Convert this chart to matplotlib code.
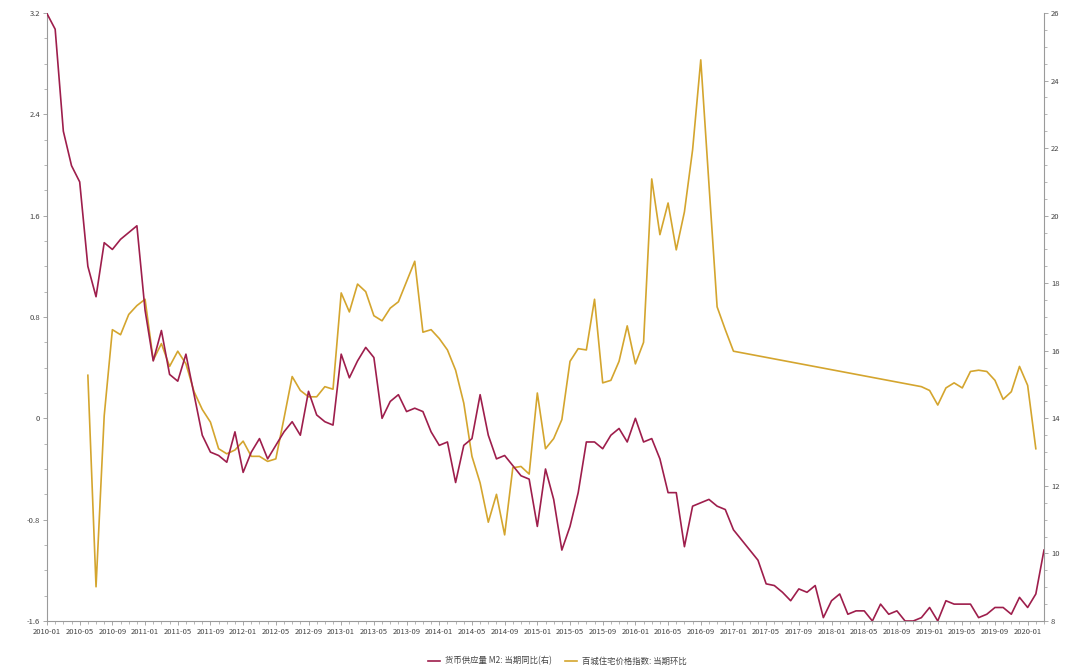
import numpy as np
import pandas as pd
import matplotlib
matplotlib.use("Agg")
import matplotlib.pyplot as plt
from matplotlib.ticker import MultipleLocator, FixedLocator

plt.rcParams['font.family'] = ['Noto Sans CJK SC', 'DejaVu Sans']

# ---- data ----
months = pd.period_range("2010-01", "2020-03", freq="M").strftime("%Y-%m").tolist()

m2_yoy = [  # 货币供应量 M2: 当期同比 (%), right axis
    25.98, 25.52, 22.5, 21.48, 21.0, 18.5, 17.6, 19.2, 19.0, 19.3, 19.5, 19.7,
    17.2, 15.7, 16.6, 15.3, 15.1, 15.9, 14.7, 13.5, 13.0, 12.9, 12.7, 13.6,
    12.4, 13.0, 13.4, 12.8, 13.2, 13.6, 13.9, 13.5, 14.8, 14.1, 13.9, 13.8,
    15.9, 15.2, 15.7, 16.1, 15.8, 14.0, 14.5, 14.7, 14.2, 14.3, 14.2, 13.6,
    13.2, 13.3, 12.1, 13.2, 13.4, 14.7, 13.5, 12.8, 12.9, 12.6, 12.3, 12.2,
    10.8, 12.5, 11.6, 10.1, 10.8, 11.8, 13.3, 13.3, 13.1, 13.5, 13.7, 13.3,
    14.0, 13.3, 13.4, 12.8, 11.8, 11.8, 10.2, 11.4, 11.5, 11.6, 11.4, 11.3,
    10.7, 10.4, 10.1, 9.8, 9.1, 9.05, 8.85, 8.6, 8.95, 8.85, 9.05, 8.1,
    8.6, 8.8, 8.2, 8.3, 8.3, 8.0, 8.5, 8.2, 8.3, 8.0, 8.0, 8.1,
    8.4, 8.0, 8.6, 8.5, 8.5, 8.5, 8.1, 8.2, 8.4, 8.4, 8.2, 8.7,
    8.4, 8.8, 10.1,
]

N = None
house_mom = [  # 百城住宅价格指数: 当期环比 (%), left axis
    N, N, N, N, N, 0.34, -1.33, 0.02, 0.70, 0.66, 0.82, 0.89,
    0.94, 0.46, 0.59, 0.41, 0.53, 0.43, 0.21, 0.07, -0.03, -0.24, -0.28, -0.25,
    -0.18, -0.30, -0.30, -0.34, -0.32, 0.00, 0.33, 0.22, 0.17, 0.17, 0.25, 0.23,
    0.99, 0.84, 1.06, 1.00, 0.81, 0.77, 0.87, 0.92, 1.08, 1.24, 0.68, 0.70,
    0.63, 0.54, 0.38, 0.12, -0.30, -0.51, -0.82, -0.60, -0.92, -0.39, -0.38, -0.44,
    0.20, -0.24, -0.16, -0.01, 0.45, 0.55, 0.54, 0.94, 0.28, 0.30, 0.45, 0.73,
    0.43, 0.60, 1.89, 1.45, 1.70, 1.33, 1.63, 2.12, 2.83, 1.85, 0.88, 0.70,
    0.53, N, N, N, N, N, N, N, N, N, N, N,
    N, N, N, N, N, N, N, N, N, N, N, 0.25,
    0.22, 0.105, 0.24, 0.28, 0.24, 0.37, 0.38, 0.37, 0.30, 0.15, 0.21, 0.41,
    0.26, -0.24, N,
]

label_m2 = "货币供应量 M2: 当期同比(右)"
label_house = "百城住宅价格指数: 当期环比"
left_ticks = [-1.6, -0.8, 0, 0.8, 1.6, 2.4, 3.2]
left_ticklabels = ["-1.6", "-0.8", "0", "0.8", "1.6", "2.4", "3.2"]
right_ticks = [8, 10, 12, 14, 16, 18, 20, 22, 24, 26]

# ---- styling ----
red = "#9E1E4C"
gold = "#D4A52E"
axis_col = "#9a9a9a"
text_col = "#444444"

fig = plt.figure(figsize=(10.8, 6.71), dpi=100)
ax = fig.add_axes([47/1080, 50/671, (1044-47)/1080, (621-13)/671])
ax2 = ax.twinx()

x = np.arange(len(months))
hs = pd.Series(house_mom, dtype=float)
mask = hs.notna().values

l2, = ax2.plot(x, m2_yoy, color=red, lw=1.2, label=label_m2, zorder=3)
l1, = ax.plot(x[mask], hs.values[mask], color=gold, lw=1.2, label=label_house, zorder=2)

ax.set_xlim(0, len(months) - 1)
ax.set_ylim(-1.6, 3.2)
ax2.set_ylim(8, 26)

ax.set_yticks(left_ticks)
ax.set_yticklabels(left_ticklabels)
ax.yaxis.set_minor_locator(MultipleLocator(0.2))
ax2.set_yticks(right_ticks)
ax2.yaxis.set_minor_locator(MultipleLocator(0.5))

major_x = list(range(0, len(months), 4))
ax.xaxis.set_major_locator(FixedLocator(major_x))
ax.set_xticklabels([months[i] for i in major_x])
ax.xaxis.set_minor_locator(MultipleLocator(1))

for a in (ax, ax2):
    for s in a.spines.values():
        s.set_color(axis_col)
        s.set_linewidth(0.8)
    a.spines['top'].set_visible(False)
    a.tick_params(which='major', length=3, width=0.6, color=axis_col,
                  labelsize=5.5, labelcolor=text_col, pad=2)
    a.tick_params(which='minor', length=2, width=0.5, color=axis_col)
ax.spines['right'].set_visible(False)
ax2.spines['left'].set_visible(False)
ax2.spines['bottom'].set_visible(False)

fig.legend(handles=[l2, l1], loc='center', bbox_to_anchor=(0.516, 0.015),
           ncol=2, frameon=False, fontsize=6, handlelength=1.5,
           columnspacing=1.5, handletextpad=0.6, labelcolor=text_col)

fig.savefig("out.png", dpi=100, facecolor="white")
